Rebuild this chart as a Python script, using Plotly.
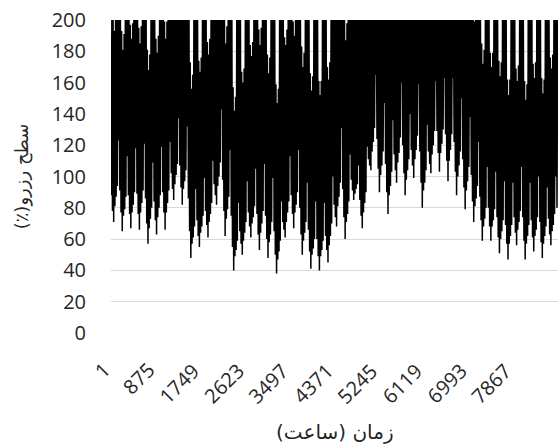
import plotly.graph_objects as go

# Daily minimum / maximum reserve level (%).
# Rows are weeks; each row starts on the week's deepest day.
prefix_low = [88, 78]
prefix_high = [200, 200]

weekly_low = [
    [71, 81, 87, 94, 123, 91, 77],
    [65, 75, 79, 87, 113, 88, 76],
    [67, 77, 82, 90, 118, 89, 76],
    [66, 77, 83, 91, 121, 86, 70],
    [57, 67, 73, 80, 109, 84, 72],
    [63, 74, 80, 88, 119, 90, 77],
    [66, 77, 83, 91, 122, 102, 92],
    [85, 95, 101, 108, 137, 107, 93],
    [82, 92, 97, 104, 132, 86, 65],
    [48, 57, 61, 68, 92, 72, 62],
    [55, 64, 68, 75, 99, 78, 69],
    [61, 71, 76, 83, 110, 95, 88],
    [82, 94, 100, 109, 143, 98, 78],
    [62, 73, 79, 87, 117, 75, 55],
    [40, 49, 53, 59, 83, 65, 57],
    [50, 59, 64, 71, 97, 77, 68],
    [61, 70, 74, 81, 105, 76, 63],
    [53, 64, 70, 78, 108, 75, 60],
    [48, 58, 63, 71, 99, 65, 50],
    [38, 47, 52, 59, 84, 71, 66],
    [61, 71, 77, 84, 113, 88, 76],
    [67, 77, 82, 90, 117, 80, 63],
    [50, 59, 64, 71, 96, 66, 52],
    [41, 50, 54, 60, 84, 60, 49],
    [40, 49, 53, 59, 83, 62, 53],
    [45, 56, 62, 70, 100, 82, 74],
    [68, 81, 87, 96, 131, 92, 74],
    [60, 71, 76, 84, 114, 98, 91],
    [85, 89, 92, 95, 107, 85, 75],
    [67, 77, 83, 90, 119, 111, 107],
    [104, 116, 122, 131, 165, 124, 105],
    [90, 101, 107, 116, 147, 108, 90],
    [76, 88, 94, 103, 136, 114, 104],
    [96, 109, 115, 125, 160, 120, 102],
    [88, 98, 104, 111, 140, 117, 107],
    [99, 111, 117, 126, 159, 116, 96],
    [80, 91, 96, 104, 133, 116, 108],
    [102, 114, 120, 129, 161, 129, 115],
    [103, 115, 121, 130, 163, 127, 110],
    [97, 110, 117, 127, 163, 122, 103],
    [88, 100, 107, 116, 150, 111, 93],
    [79, 91, 97, 106, 138, 101, 84],
    [71, 81, 86, 94, 122, 87, 72],
    [59, 68, 73, 80, 106, 80, 68],
    [59, 68, 72, 79, 103, 74, 61],
    [51, 60, 65, 72, 97, 69, 57],
    [47, 57, 62, 69, 96, 74, 64],
    [56, 66, 71, 78, 106, 74, 59],
    [47, 57, 62, 69, 96, 72, 61],
    [52, 62, 66, 74, 100, 71, 58],
    [48, 57, 62, 68, 93, 73, 63],
    [56, 65, 69, 76, 100, 80],
]

weekly_high = [
    [193, 200, 200, 200, 200, 200, 193],
    [181, 191, 200, 200, 200, 200, 197],
    [188, 198, 200, 200, 200, 200, 195],
    [185, 196, 200, 200, 200, 200, 181],
    [168, 178, 200, 200, 200, 200, 188],
    [179, 190, 200, 200, 200, 200, 199],
    [188, 199, 200, 200, 200, 200, 200],
    [200, 200, 200, 200, 200, 200, 200],
    [200, 200, 200, 200, 200, 200, 173],
    [156, 165, 200, 200, 200, 200, 174],
    [167, 176, 200, 200, 200, 200, 186],
    [178, 188, 200, 200, 200, 200, 200],
    [200, 200, 200, 200, 200, 200, 200],
    [185, 196, 200, 200, 200, 200, 157],
    [142, 151, 200, 200, 200, 200, 167],
    [160, 169, 200, 200, 200, 200, 184],
    [177, 186, 200, 200, 200, 200, 194],
    [184, 195, 200, 200, 200, 200, 178],
    [166, 176, 200, 200, 200, 200, 159],
    [147, 156, 200, 200, 200, 200, 189],
    [184, 194, 200, 200, 200, 200, 199],
    [190, 200, 200, 200, 200, 200, 183],
    [170, 179, 200, 200, 200, 200, 166],
    [155, 164, 200, 200, 200, 200, 161],
    [152, 161, 200, 200, 200, 200, 170],
    [162, 173, 200, 200, 200, 200, 200],
    [200, 200, 200, 200, 200, 200, 200],
    [187, 198, 200, 200, 200, 200, 200],
    [200, 200, 200, 200, 200, 200, 200],
    [200, 200, 200, 200, 200, 200, 200],
    [200, 200, 200, 200, 200, 200, 200],
    [200, 200, 200, 200, 200, 200, 200],
    [200, 200, 200, 200, 200, 200, 200],
    [200, 200, 200, 200, 200, 200, 200],
    [200, 200, 200, 200, 200, 200, 200],
    [200, 200, 200, 200, 200, 200, 200],
    [200, 200, 200, 200, 200, 200, 200],
    [200, 200, 200, 200, 200, 200, 200],
    [200, 200, 200, 200, 200, 200, 200],
    [200, 200, 200, 200, 200, 200, 200],
    [200, 200, 200, 200, 200, 200, 200],
    [200, 200, 200, 200, 200, 200, 200],
    [199, 200, 200, 200, 200, 200, 185],
    [172, 181, 200, 200, 200, 200, 179],
    [170, 179, 200, 200, 200, 200, 174],
    [164, 173, 200, 200, 200, 200, 162],
    [152, 162, 200, 200, 200, 200, 169],
    [161, 171, 200, 200, 200, 200, 161],
    [149, 159, 200, 200, 200, 200, 172],
    [163, 173, 200, 200, 200, 200, 163],
    [153, 162, 200, 200, 200, 200, 176],
    [169, 178, 200, 200, 200, 200],
]

tick_hours = [1, 875, 1749, 2623, 3497, 4371, 5245, 6119, 6993, 7867]
y_ticks = list(range(0, 201, 20))
n_hours = 8760

x_title = "\u202bزمان (ساعت)\u202c"
y_title = "\u202bسطح رزرو(٪)\u202c"

daily_low = prefix_low + [v for row in weekly_low for v in row]
daily_high = prefix_high + [v for row in weekly_high for v in row]

xs, ys = [], []
for d, (lo, hi) in enumerate(zip(daily_low, daily_high)):
    xs += [d * 24 + 5, d * 24 + 17]
    ys += [lo, hi]

fig = go.Figure(go.Scatter(x=xs, y=ys, mode="lines",
                           line=dict(color="#000000", width=1.5),
                           hoverinfo="skip", showlegend=False))

tick_font = dict(family="Open Sans, DejaVu Sans, sans-serif", size=20, color="#262626")
title_font = dict(family="DejaVu Sans, sans-serif", size=18, color="#262626")
xtitle_font = dict(family="DejaVu Sans, sans-serif", size=20, color="#262626")

# rotated x tick labels (text ends at the tick, rising to the right)
for h in tick_hours:
    fig.add_annotation(x=h, y=0, xref="x", yref="y", text=str(h),
                       textangle=-45, xanchor="right", yanchor="top",
                       xshift=6, yshift=-23, showarrow=False,
                       font=tick_font, borderpad=0)

fig.add_annotation(x=0.502, y=-0.316, xref="paper", yref="paper",
                   text=x_title, showarrow=False, xanchor="center",
                   yanchor="middle", font=xtitle_font)

fig.update_layout(
    width=558, height=446,
    margin=dict(l=111, r=0, t=20, b=113, autoexpand=False),
    paper_bgcolor="white", plot_bgcolor="white",
    xaxis=dict(range=[0.5, n_hours + 0.5], showticklabels=False,
               showgrid=False, zeroline=False, showline=False, ticks="",
               automargin=False),
    yaxis=dict(range=[0, 200], tickmode="array", tickvals=y_ticks,
               tickfont=tick_font, showgrid=True, gridcolor="#d9d9d9",
               gridwidth=1, zeroline=False, showline=False, ticks="",
               ticklabelstandoff=24, automargin=False,
               title=dict(text=y_title, font=title_font, standoff=18)),
)

fig.write_html("out.html")
